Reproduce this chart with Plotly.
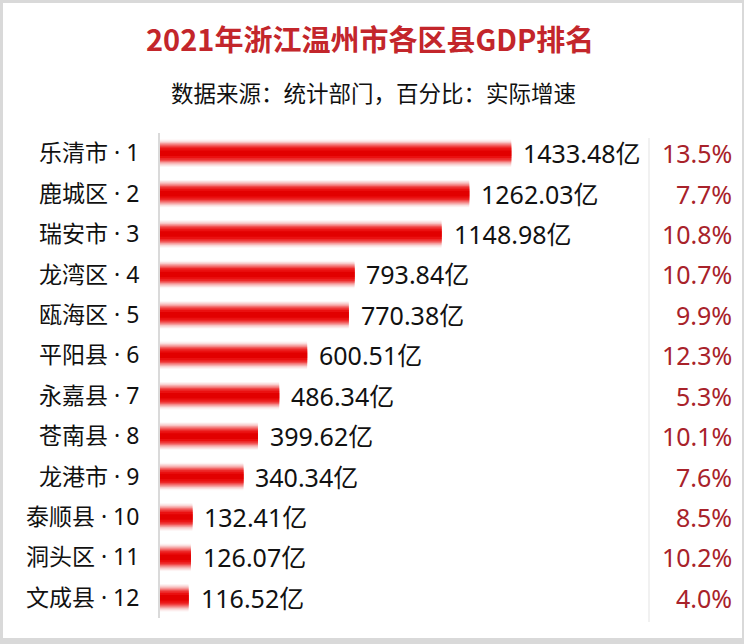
import plotly.graph_objects as go

# data
districts = ['乐清市', '鹿城区', '瑞安市', '龙湾区', '瓯海区', '平阳县',
             '永嘉县', '苍南县', '龙港市', '泰顺县', '洞头区', '文成县']
ranks = list(range(1, 13))
gdp = [1433.48, 1262.03, 1148.98, 793.84, 770.38, 600.51,
       486.34, 399.62, 340.34, 132.41, 126.07, 116.52]
growth = [13.5, 7.7, 10.8, 10.7, 9.9, 12.3, 5.3, 10.1, 7.6, 8.5, 10.2, 4.0]

title = '2021年浙江温州市各区县GDP排名'
subtitle = '数据来源：统计部门，百分比：实际增速'

W, H = 744, 644
L, R, T, B = 160, 94, 133, 26
pw, ph = W - L - R, H - T - B

def px_x(x):
    return (x - L) / pw

def px_y(y):
    return (H - B - y) / ph

cjk = 'Noto Sans CJK SC, sans-serif'
latin = 'Noto Sans, Noto Sans CJK SC, sans-serif'
labels = [f'{d} · {r}' for d, r in zip(districts, ranks)]

fig = go.Figure()

# stacked overlays fake the soft red gradient of each bar
layers = [(0.68, '#fdf3f3'), (0.62, '#fadede'), (0.56, '#f8c2c2'),
          (0.50, '#f59d9d'), (0.44, '#f37575'), (0.38, '#f04c4c'),
          (0.32, '#ed2a2a'), (0.24, '#ea1010'), (0.14, '#e20000')]
for w, c in layers:
    fig.add_trace(go.Bar(x=gdp, y=labels, orientation='h', width=w,
                         marker=dict(color=c, line=dict(width=0)),
                         hoverinfo='skip', showlegend=False))

annotations = []
for lab, v, g in zip(labels, gdp, growth):
    annotations.append(dict(x=v, y=lab, xref='x', yref='y', text=f'{v:.2f}亿',
                            showarrow=False, xanchor='left', yanchor='middle',
                            xshift=10,
                            font=dict(size=25, color='#111111', family=latin)))
    annotations.append(dict(x=px_x(734), y=lab, xref='paper', yref='y',
                            text=f'{g:.1f}%', showarrow=False, xanchor='right',
                            yanchor='middle',
                            font=dict(size=25, color='#a8222a', family=latin)))

annotations.append(dict(x=px_x(370), y=px_y(38), xref='paper', yref='paper',
                        text=f'<b>{title}</b>', showarrow=False,
                        xanchor='center', yanchor='middle',
                        font=dict(size=29, color='#c3262b', family=cjk)))
annotations.append(dict(x=px_x(373), y=px_y(92), xref='paper', yref='paper',
                        text=subtitle, showarrow=False,
                        xanchor='center', yanchor='middle',
                        font=dict(size=22.5, color='#111111', family=cjk)))

shapes = [
    # white card on a grey frame
    dict(type='rect', xref='paper', yref='paper', layer='below',
         x0=px_x(3), x1=px_x(742), y0=px_y(638), y1=px_y(3),
         fillcolor='white', line=dict(width=0)),
    # separator before the growth column
    dict(type='line', xref='paper', yref='paper',
         x0=px_x(649), x1=px_x(649), y0=px_y(622), y1=px_y(138),
         line=dict(color='#ececec', width=1.5)),
]

fig.update_layout(
    width=W, height=H,
    margin=dict(l=L, r=R, t=T, b=B),
    paper_bgcolor='#d9d9d9',
    plot_bgcolor='rgba(0,0,0,0)',
    barmode='overlay',
    showlegend=False,
    annotations=annotations,
    shapes=shapes,
    font=dict(family=latin),
    xaxis=dict(range=[0, 2000], visible=False, fixedrange=True),
    yaxis=dict(autorange='reversed', showgrid=False, zeroline=False,
               showline=True, linecolor='#dadada', linewidth=2,
               ticks='', ticklabelstandoff=14, fixedrange=True,
               tickfont=dict(size=23, color='#111111', family=latin)),
)

fig.write_html('out.html', config={'displayModeBar': False},
               post_script="document.body.style.margin='0';")
